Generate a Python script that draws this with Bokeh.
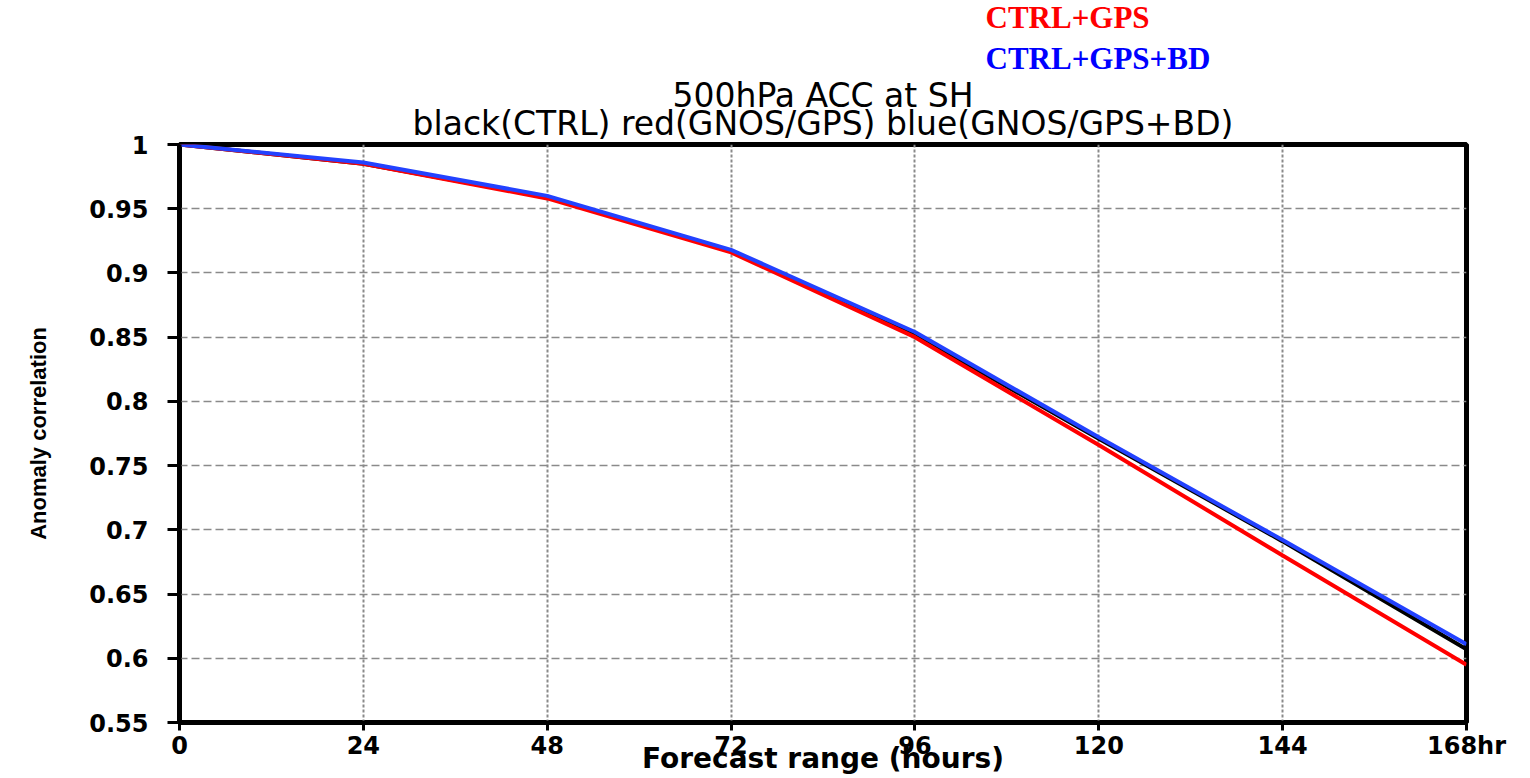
from bokeh.plotting import figure
from bokeh.models import Range1d, FixedTicker, Title
from bokeh.embed import file_html
from bokeh.resources import INLINE

# Forecast lead times (hours) and 500hPa anomaly correlation, Southern Hemisphere
hours = [0, 24, 48, 72, 96, 120, 144, 168]
acc_ctrl = [1.0, 0.985, 0.959, 0.917, 0.852, 0.771, 0.691, 0.607]
acc_gps = [1.0, 0.985, 0.958, 0.916, 0.850, 0.766, 0.680, 0.595]
acc_gps_bd = [1.0, 0.986, 0.960, 0.918, 0.854, 0.772, 0.692, 0.611]

x_ticks = [0, 24, 48, 72, 96, 120, 144, 168]
x_tick_labels = ["0", "24", "48", "72", "96", "120", "144", "168hr"]
y_ticks = [0.55, 0.6, 0.65, 0.7, 0.75, 0.8, 0.85, 0.9, 0.95, 1.0]
y_tick_labels = ["0.55", "0.6", "0.65", "0.7", "0.75", "0.8", "0.85", "0.9", "0.95", "1"]

title_lines = ["500hPa ACC at SH", "black(CTRL) red(GNOS/GPS) blue(GNOS/GPS+BD)"]
legend_labels = ["CTRL+GPS", "CTRL+GPS+BD"]
x_title = "Forecast range (hours)"
y_title = "Anomaly correlation"

p = figure(
    width=1530, height=778,
    output_backend="svg", toolbar_location=None,
    x_range=Range1d(0, 168), y_range=Range1d(0.55, 1.0),
    min_border_left=179, min_border_right=64,
    min_border_top=144, min_border_bottom=56,
)
p.background_fill_color = "white"
p.border_fill_color = "white"
p.outline_line_color = "black"
p.outline_line_width = 5

# axes
for ax in (p.xaxis[0], p.yaxis[0]):
    ax.axis_line_width = 4
    ax.axis_line_color = "black"
    ax.major_tick_line_width = 3
    ax.major_tick_line_color = "black"
    ax.major_tick_in = 0
    ax.minor_tick_line_color = None
    ax.major_label_text_font = "DejaVu Sans"
    ax.major_label_text_font_style = "bold"
    ax.major_label_text_font_size = "24px"
    ax.major_label_text_color = "black"

p.xaxis.ticker = FixedTicker(ticks=x_ticks)
p.xaxis.major_label_overrides = {t: s for t, s in zip(x_ticks, x_tick_labels)}
p.xaxis.major_tick_out = 8
p.xaxis.major_label_standoff = 1
p.xaxis.axis_label = x_title
p.xaxis.axis_label_text_font = "DejaVu Sans"
p.xaxis.axis_label_text_font_style = "bold"
p.xaxis.axis_label_text_font_size = "28px"
p.xaxis.axis_label_text_color = "black"
p.xaxis.axis_label_standoff = -21

p.yaxis.ticker = FixedTicker(ticks=y_ticks)
p.yaxis.major_label_overrides = {t: s for t, s in zip(y_ticks, y_tick_labels)}
p.yaxis.major_tick_out = 12
p.yaxis.major_label_standoff = 19
p.yaxis.axis_label = y_title
p.yaxis.axis_label_text_font = "Liberation Sans Narrow, Liberation Sans"
p.yaxis.axis_label_text_font_style = "bold"
p.yaxis.axis_label_text_font_size = "22px"
p.yaxis.axis_label_text_color = "black"
p.yaxis.axis_label_standoff = 35

# grid
p.xgrid.ticker = FixedTicker(ticks=x_ticks)
p.ygrid.ticker = FixedTicker(ticks=y_ticks)
p.xgrid.grid_line_color = "#8a8a8a"
p.xgrid.grid_line_width = 2
p.xgrid.grid_line_dash = "3 2"
p.ygrid.grid_line_color = "#8a8a8a"
p.ygrid.grid_line_width = 1.5
p.ygrid.grid_line_dash = "8 4"

# series
p.line(hours, acc_ctrl, line_color="black", line_width=4)
p.line(hours, acc_gps, line_color="#ff0000", line_width=4)
p.line(hours, acc_gps_bd, line_color="#2342ff", line_width=4)

# header rows, stacked upward from the frame
p.add_layout(Title(text=title_lines[1], align="center", standoff=4,
                   text_font="DejaVu Sans", text_font_style="normal",
                   text_font_size="33px", text_color="black"), "above")
p.add_layout(Title(text=title_lines[0], align="center", standoff=-30,
                   text_font="DejaVu Sans", text_font_style="normal",
                   text_font_size="33px", text_color="black"), "above")
p.add_layout(Title(text=legend_labels[1], align="left", offset=806, standoff=26,
                   text_font="Liberation Serif", text_font_style="bold",
                   text_font_size="31px", text_color="#0000ff"), "above")
p.add_layout(Title(text=legend_labels[0], align="left", offset=806, standoff=-18,
                   text_font="Liberation Serif", text_font_style="bold",
                   text_font_size="31px", text_color="#ff0000"), "above")

open("out.html", "w").write(file_html(p, INLINE))
